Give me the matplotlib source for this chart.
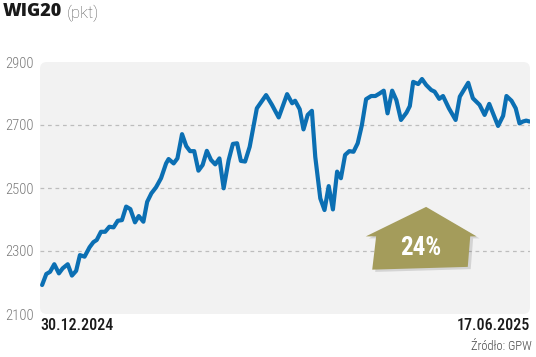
import matplotlib
matplotlib.use("Agg")
import matplotlib.pyplot as plt
from matplotlib.patches import FancyBboxPatch, Polygon

# WIG20 closing levels (session number from 30.12.2024)
sessions = [0, 1.0, 1.9, 2.9, 4.0, 4.9, 6.1, 7.1, 8.1, 9.0, 10.1, 11.3, 12.2, 13.0,
            14.0, 15.0, 16.0, 17.0, 18.0, 19.0, 20.0, 21.0, 22.1, 23.0, 24.1, 25.0,
            26.0, 27.1, 28.3, 29.5, 30.1, 31.3, 32.2, 33.3, 34.3, 35.2, 36.2, 37.2,
            38.2, 39.2, 40.2, 41.2, 42.2, 43.2, 44.4, 45.4, 46.4, 47.3, 48.3, 49.4,
            51.1, 53.3, 54.7, 56.3, 58.3, 59.5, 60.2, 61.3, 62.2, 63.2, 64.2, 65.0,
            66.2, 67.2, 68.2, 69.2, 70.2, 71.1, 72.1, 73.1, 74.1, 75.1, 76.1, 77.1,
            78.3, 79.3, 80.3, 81.3, 82.2, 83.3, 84.3, 85.4, 86.7, 87.5, 88.3, 89.5,
            90.4, 91.4, 92.6, 93.4, 94.5, 95.4, 96.8, 98.4, 99.4, 101.4, 102.5, 104.1,
            105.3, 106.4, 108.5, 109.7, 110.5, 111.7, 112.7, 113.6, 114.4, 115.2, 116.0]
wig20 = [2192, 2227, 2234, 2258, 2229, 2245, 2258, 2222, 2237, 2287, 2282, 2312, 2328, 2335,
         2361, 2361, 2377, 2375, 2396, 2398, 2441, 2433, 2391, 2411, 2393, 2456,
         2483, 2502, 2531, 2578, 2592, 2578, 2594, 2671, 2633, 2617, 2617, 2555,
         2573, 2618, 2589, 2575, 2594, 2499, 2589, 2640, 2642, 2586, 2584, 2631,
         2753, 2795, 2764, 2724, 2798, 2769, 2777, 2750, 2686, 2732, 2745, 2599,
         2467, 2430, 2506, 2432, 2552, 2531, 2605, 2617, 2615, 2642, 2700, 2782,
         2792, 2792, 2800, 2809, 2737, 2809, 2779, 2716, 2739, 2760, 2837, 2830,
         2846, 2827, 2811, 2806, 2783, 2792, 2753, 2716, 2790, 2834, 2785, 2764,
         2732, 2767, 2697, 2729, 2792, 2777, 2753, 2705, 2711, 2714, 2711]

y_ticks = [2100, 2300, 2500, 2700, 2900]
grid_levels = [2300, 2500, 2700]
start_label = "30.12.2024"
end_label = "17.06.2025"
change_label = "24%"

BLUE = "#0b6fb3"
OLIVE = "#a49c5b"
cond = ["Roboto Condensed", "DejaVu Sans"]
sans = ["Roboto", "DejaVu Sans"]

fig = plt.figure(figsize=(5.36, 3.57), dpi=100)
ax = fig.add_axes([40 / 536, 1 - 314 / 357, 490 / 536, 252 / 357])
ax.set_facecolor("none")

# rounded light-gray panel behind the plot
panel = FancyBboxPatch((0, 0), 1, 1, boxstyle="round,pad=0,rounding_size=0.014",
                       mutation_aspect=490 / 252, transform=ax.transAxes,
                       facecolor="#f2f2f2", edgecolor="none", zorder=0, clip_on=False)
ax.add_patch(panel)

for lvl in grid_levels:
    ax.axhline(lvl, color="#bdbdbd", lw=0.9, dashes=(3, 3), zorder=1)

ax.plot(sessions, wig20, color=BLUE, lw=3.0, solid_joinstyle="round",
        solid_capstyle="round", zorder=3)

ax.set_xlim(-0.5, 116.1)
ax.set_ylim(2100, 2900)
ax.set_xticks([])
ax.set_yticks(y_ticks)
ax.set_yticklabels([str(v) for v in y_ticks], fontsize=10.5, color="#7a7a7a",
                   family=cond, fontweight="light")
ax.tick_params(axis="y", length=0, pad=4.5)
for s in ax.spines.values():
    s.set_visible(False)

# "up" arrow with the change
shadow = [(0.792, 0.418), (0.897, 0.300), (0.884, 0.300), (0.879, 0.178),
          (0.684, 0.167), (0.692, 0.300), (0.671, 0.300)]
house = [(0.788, 0.425), (0.891, 0.308), (0.878, 0.308), (0.873, 0.187),
         (0.678, 0.176), (0.686, 0.308), (0.665, 0.308)]
ax.add_patch(Polygon(shadow, closed=True, transform=ax.transAxes,
                     facecolor="#000000", alpha=0.12, edgecolor="none", zorder=4))
ax.add_patch(Polygon(house, closed=True, transform=ax.transAxes,
                     facecolor=OLIVE, edgecolor="none", zorder=5))
ax.text(0.778, 0.262, change_label, transform=ax.transAxes, ha="center", va="center",
        fontsize=18, fontweight="bold", color="white", family=cond, zorder=6)

# titles and labels
fig.text(3 / 536, 1 - 12 / 357, "WIG20", fontsize=13, fontweight="heavy",
         color="#1a1a1a", va="center", ha="left",
         family=["Open Sans", "Roboto", "DejaVu Sans"])
fig.text(67 / 536, 1 - 13 / 357, "(pkt)", fontsize=12, color="#555555",
         va="center", ha="left", family=sans, fontweight="light")
fig.text(40 / 536, 1 - 326 / 357, start_label, fontsize=11.5, color="#1a1a1a",
         va="center", ha="left", family=cond, fontweight="medium")
fig.text(530 / 536, 1 - 326 / 357, end_label, fontsize=11.5, color="#1a1a1a",
         va="center", ha="right", family=cond, fontweight="medium")
fig.text(532 / 536, 1 - 346 / 357, "Źródło: GPW", fontsize=9, color="#444444",
         va="center", ha="right", family=cond, fontweight="light")

fig.savefig("out.png", dpi=100)
plt.close(fig)
